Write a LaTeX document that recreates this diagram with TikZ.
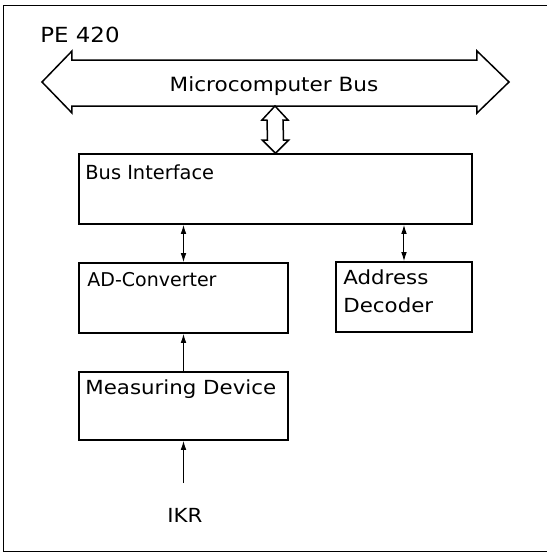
\documentclass[tikz,border=0pt]{standalone}
\usepackage{fontspec}
\setmainfont{DejaVu Sans}
\newfontfamily\widefont[FakeStretch=1.1]{DejaVu Sans}
\usetikzlibrary{arrows.meta,calc}
\tikzset{
  frameline/.style={line width=0.5pt},
  box/.style={draw, line width=0.8pt, rectangle, inner sep=0pt},
  lbl/.style={inner sep=0pt, anchor=base west, font=\fontsize{9.7}{14}\selectfont},
  wlbl/.style={inner sep=0pt, anchor=base west, font=\widefont\fontsize{9.7}{14}\selectfont},
  busline/.style={draw, line width=0.75pt, line join=miter},
  conn/.style={line width=0.5pt, {Latex[length=4.5pt,width=2.8pt]}-{Latex[length=4.5pt,width=2.8pt]}},
  uconn/.style={line width=0.5pt, -{Latex[length=4.5pt,width=2.8pt]}},
}
\begin{document}
\begin{tikzpicture}[x=0.5pt,y=-0.5pt]
\useasboundingbox (0,0) rectangle (547,554);
% outer frame (right side cut off)
\draw[frameline] (547,5) -- (4,5) -- (4,551) -- (547,551);
\node[inner sep=0pt, anchor=base west, font=\widefont\fontsize{10.4}{12}\selectfont] (pe) at (40,42) {PE 420};
% microcomputer bus
\draw[busline] (42,82) -- (72,51) -- (72,60) -- (477,60) -- (477,51) -- (509,82)
   -- (477,113) -- (477,106) -- (72,106) -- (72,113) -- cycle;
\node[inner sep=0pt, anchor=base, font=\widefont\fontsize{9.8}{12}\selectfont] (bus) at (274,91) {Microcomputer Bus};
\coordinate (busS) at (275,106);
% boxes
\node[box, minimum width=196.5pt, minimum height=35pt] (bi) at (275.5,189) {};
\node[box, minimum width=104.5pt, minimum height=35pt] (ad) at (183.5,298) {};
\node[box, minimum width=68pt, minimum height=35pt] (dec) at (404,297) {};
\node[box, minimum width=104.5pt, minimum height=34pt] (md) at (183.5,406) {};
% labels
\node[lbl] (bit) at (85,179) {Bus Interface};
\node[lbl, font=\fontsize{9.5}{14}\selectfont] (adt) at (87,286) {AD-Converter};
\node[wlbl] (dect1) at (343,284) {Address};
\node[wlbl] (dect2) at (343,312) {Decoder};
\node[wlbl] (mdt) at (85,394) {Measuring Device};
\node[inner sep=0pt, anchor=base, font=\widefont\fontsize{9.7}{12}\selectfont] (ikr) at (185,522) {IKR};
% small double arrow bus <-> bus interface
\draw[busline] (busS) -- ($(busS)+(13,14)$) -- ($(busS)+(8,14)$) -- ($(bi.north)+(8,-13)$)
  -- ($(bi.north)+(13,-13)$) -- (bi.north) -- ($(bi.north)+(-13,-13)$) -- ($(bi.north)+(-8,-13)$)
  -- ($(busS)+(-8,14)$) -- ($(busS)+(-13,14)$) -- cycle;
% connectors
\draw[conn] (ad.north) -- (ad.north |- bi.south);
\draw[conn] (dec.north) -- (dec.north |- bi.south);
\draw[uconn] (md.north) -- (ad.south);
\coordinate (ikrin) at (183.5,483);
\draw[uconn] (ikrin) -- (md.south);
\end{tikzpicture}
\end{document}
